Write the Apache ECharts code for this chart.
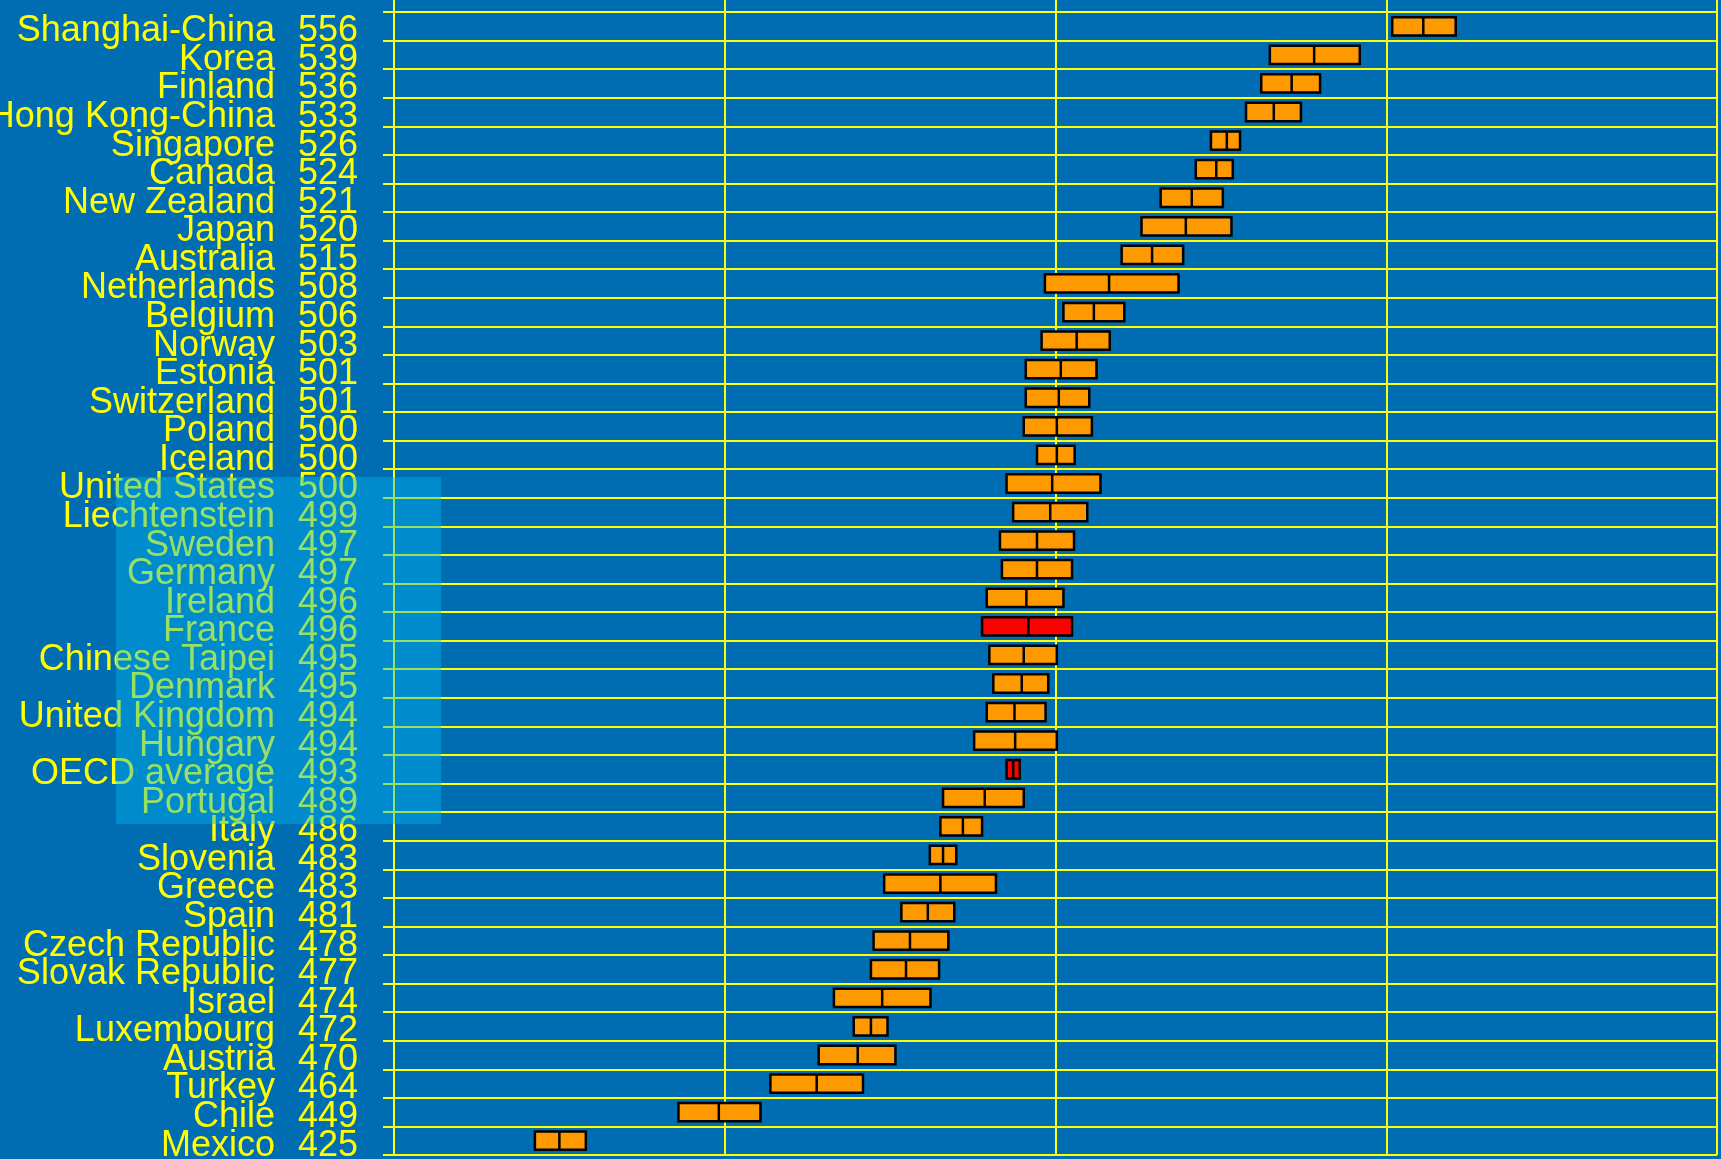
<!DOCTYPE html>
<html>
<head>
<meta charset="utf-8">
<script src="https://cdn.jsdelivr.net/npm/echarts@6/dist/echarts.min.js"></script>
<style>
  html, body { margin: 0; padding: 0; background: #006db3; }
  #chart { width: 1721px; height: 1159px; }
</style>
</head>
<body>
<div id="chart"></div>
<script>
const countries = [
  "Shanghai-China", "Korea", "Finland", "Hong Kong-China", "Singapore", "Canada",
  "New Zealand", "Japan", "Australia", "Netherlands", "Belgium", "Norway", "Estonia",
  "Switzerland", "Poland", "Iceland", "United States", "Liechtenstein", "Sweden",
  "Germany", "Ireland", "France", "Chinese Taipei", "Denmark", "United Kingdom",
  "Hungary", "OECD average", "Portugal", "Italy", "Slovenia", "Greece", "Spain",
  "Czech Republic", "Slovak Republic", "Israel", "Luxembourg", "Austria", "Turkey",
  "Chile", "Mexico"
];
const scores = [
  556, 539, 536, 533, 526, 524, 521, 520, 515, 508, 506, 503, 501, 501, 500, 500,
  500, 499, 497, 497, 496, 496, 495, 495, 494, 494, 493, 489, 486, 483, 483, 481,
  478, 477, 474, 472, 470, 464, 449, 425
];
// where the dividing line inside each box sits
const means = [
  555.6, 539.1, 535.7, 533.0, 525.9, 524.3, 520.6, 519.7, 514.6, 508.1, 505.8, 503.2,
  500.8, 500.5, 500.2, 500.2, 499.5, 499.2, 497.2, 497.2, 495.6, 495.9, 495.2, 494.9,
  493.8, 493.9, 493.6, 489.3, 486.0, 483.0, 482.6, 480.7, 478.0, 477.4, 473.8, 472.1,
  470.1, 463.9, 449.1, 425.0
];
// confidence interval ends
const lower = [
  550.9, 532.4, 531.1, 528.8, 523.5, 521.2, 515.9, 513.0, 510.0, 498.4, 501.2, 497.9,
  495.5, 495.5, 495.2, 497.2, 492.6, 493.6, 491.6, 491.9, 489.6, 488.9, 490.0, 490.6,
  489.6, 487.7, 492.6, 483.0, 482.6, 481.0, 474.1, 476.7, 472.5, 472.1, 466.5, 469.5,
  464.2, 456.9, 443.0, 421.3
];
const upper = [
  560.5, 546.0, 540.0, 537.1, 527.9, 526.8, 525.3, 526.6, 519.3, 518.6, 510.4, 508.2,
  506.2, 505.1, 505.5, 502.9, 506.8, 504.8, 502.8, 502.5, 501.2, 502.5, 500.2, 498.9,
  498.5, 500.2, 494.6, 495.2, 488.9, 485.0, 491.0, 484.7, 483.8, 482.4, 481.1, 474.6,
  475.8, 470.9, 455.4, 429.0
];
const highlighted = ["France", "OECD average"];

const YELLOW = "#ffff00";
const chart = echarts.init(document.getElementById("chart"));

const boxData = countries.map((name, i) => [lower[i], upper[i], means[i], i]);

function renderBox(params, api) {
  const idx = api.value(3);
  const left = api.coord([api.value(0), idx]);
  const right = api.coord([api.value(1), idx]);
  const mid = api.coord([api.value(2), idx]);
  const h = api.size([0, 1])[1] * 0.64;
  const fill = highlighted.includes(countries[idx]) ? "#ff0000" : "#ff9900";
  return {
    type: "group",
    children: [
      {
        type: "rect",
        shape: { x: left[0], y: left[1] - h / 2, width: right[0] - left[0], height: h },
        style: { fill: fill, stroke: "#000", lineWidth: 2.5 },
      },
      {
        type: "line",
        shape: { x1: mid[0], y1: mid[1] - h / 2, x2: mid[0], y2: mid[1] + h / 2 },
        style: { stroke: "#000", lineWidth: 2.5 },
      },
    ],
  };
}

// labels sit a little below the band centre in the original
const labelFont = {
  color: YELLOW,
  fontSize: 36,
  fontFamily: "'Liberation Sans', Arial, sans-serif",
  interval: 0,
  verticalAlign: "top",
  lineHeight: 10,
};

chart.setOption({
  backgroundColor: "#006db3",
  animation: false,
  grid: { left: 394, right: 4, top: 12, bottom: 4, outerBoundsMode: "none" },
  xAxis: {
    type: "value",
    position: "top",
    min: 400,
    max: 600,
    interval: 50,
    axisLine: { show: false },
    axisTick: { show: true, length: 12, lineStyle: { color: YELLOW, width: 2 } },
    axisLabel: { show: false },
    splitLine: { show: true, lineStyle: { color: YELLOW, width: 2 } },
  },
  yAxis: [
    {
      type: "category",
      data: countries,
      inverse: true,
      position: "left",
      axisLine: { show: true, lineStyle: { color: YELLOW, width: 2 } },
      axisTick: { show: true, interval: 0, length: 11, lineStyle: { color: YELLOW, width: 2 } },
      splitLine: { show: true, interval: 0, lineStyle: { color: YELLOW, width: 2 } },
      axisLabel: { ...labelFont, margin: 119 },
    },
    {
      type: "category",
      data: scores.map(String),
      inverse: true,
      position: "left",
      axisLine: { show: false },
      axisTick: { show: false },
      splitLine: { show: false },
      axisLabel: { ...labelFont, margin: 36 },
    },
  ],
  series: [
    {
      type: "custom",
      xAxisIndex: 0,
      yAxisIndex: 0,
      renderItem: renderBox,
      encode: { x: [0, 1, 2], y: 3 },
      data: boxData,
      z: 5,
    },
  ],
  graphic: [
    {
      type: "rect",
      left: 116,
      top: 477,
      z: 100,
      shape: { width: 325, height: 347 },
      style: { fill: "rgba(0, 183, 244, 0.41)" },
    },
  ],
});
</script>
</body>
</html>
